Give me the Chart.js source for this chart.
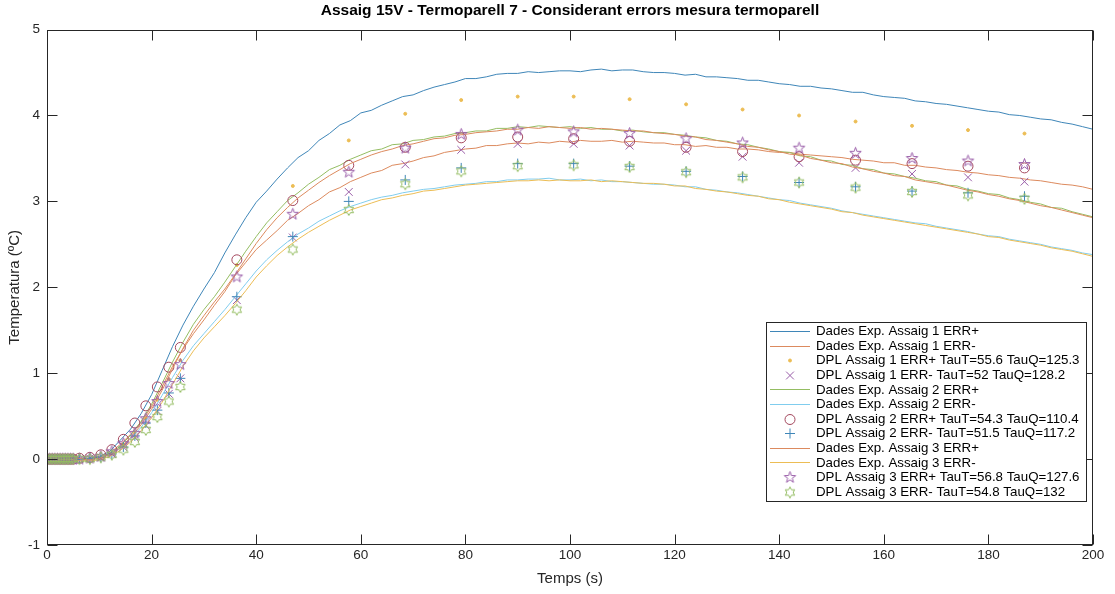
<!DOCTYPE html>
<html>
<head>
<meta charset="utf-8">
<script src="https://cdn.jsdelivr.net/npm/chart.js@4.4.1/dist/chart.umd.min.js"></script>
<style>
html,body{margin:0;padding:0;background:#fff;}
#wrap{width:1115px;height:594px;position:relative;}
</style>
</head>
<body>
<div id="wrap"><canvas id="c" width="1115" height="594"></canvas></div>
<script>
// ---------- DATA ----------
const chartTitle = 'Assaig 15V - Termoparell 7 - Considerant errors mesura termoparell';
const xTitle = 'Temps (s)';
const yTitle = 'Temperatura (ºC)';

const seriesLabels = [
  'Dades Exp. Assaig 1 ERR+',
  'Dades Exp. Assaig 1 ERR-',
  'DPL Assaig 1 ERR+ TauT=55.6 TauQ=125.3',
  'DPL Assaig 1 ERR- TauT=52 TauQ=128.2',
  'Dades Exp. Assaig 2 ERR+',
  'Dades Exp. Assaig 2 ERR-',
  'DPL Assaig 2 ERR+ TauT=54.3 TauQ=110.4',
  'DPL Assaig 2 ERR- TauT=51.5 TauQ=117.2',
  'Dades Exp. Assaig 3 ERR+',
  'Dades Exp. Assaig 3 ERR-',
  'DPL Assaig 3 ERR+ TauT=56.8 TauQ=127.6',
  'DPL Assaig 3 ERR- TauT=54.8 TauQ=132'
];

// experimental time base (s)
const timeExp = [
  0,2,4,6,8,10,12,14,16,18,
  20,22,24,26,28,30,32,34,36,38,
  40,42,44,46,48,50,52,54,56,58,
  60,62,64,66,68,70,72,74,76,78,
  80,82,84,86,88,90,92,94,96,98,
  100,102,104,106,108,110,112,114,116,118,
  120,122,124,126,128,130,132,134,136,138,
  140,142,144,146,148,150,152,154,156,158,
  160,162,164,166,168,170,172,174,176,178,
  180,182,184,186,188,190,192,194,196,198,
  200
];

const expA1Plus = [
  0.00,0.01,-0.01,0.00,0.01,0.03,0.09,0.22,0.35,0.53,
  0.75,1.03,1.31,1.56,1.78,1.98,2.17,2.40,2.61,2.81,
  2.99,3.12,3.26,3.39,3.51,3.59,3.71,3.79,3.89,3.94,
  4.03,4.06,4.12,4.17,4.22,4.24,4.29,4.33,4.36,4.39,
  4.43,4.43,4.45,4.48,4.49,4.49,4.51,4.50,4.51,4.52,
  4.52,4.51,4.53,4.54,4.52,4.53,4.53,4.51,4.50,4.50,
  4.49,4.47,4.48,4.45,4.45,4.44,4.43,4.41,4.41,4.39,
  4.37,4.36,4.34,4.34,4.32,4.31,4.29,4.27,4.27,4.24,
  4.22,4.21,4.20,4.17,4.16,4.14,4.13,4.11,4.09,4.07,
  4.05,4.04,4.01,4.00,3.98,3.96,3.95,3.92,3.90,3.87,
  3.84
];
const expA1Minus = [
  0.00,-0.01,0.00,0.01,-0.01,0.02,0.07,0.17,0.29,0.43,
  0.61,0.84,1.08,1.28,1.46,1.62,1.79,1.95,2.14,2.29,
  2.44,2.55,2.66,2.78,2.86,2.95,3.02,3.11,3.16,3.23,
  3.28,3.33,3.36,3.42,3.44,3.47,3.51,3.53,3.57,3.59,
  3.61,3.62,3.65,3.65,3.67,3.68,3.67,3.69,3.68,3.70,
  3.69,3.71,3.70,3.70,3.71,3.69,3.70,3.69,3.68,3.68,
  3.66,3.66,3.64,3.65,3.63,3.63,3.61,3.61,3.60,3.58,
  3.57,3.57,3.55,3.54,3.53,3.52,3.51,3.49,3.48,3.47,
  3.45,3.45,3.42,3.42,3.40,3.39,3.37,3.36,3.34,3.33,
  3.31,3.30,3.28,3.27,3.25,3.24,3.22,3.20,3.19,3.17,
  3.14
];
const expA2Plus = [
  0.00,0.00,0.01,-0.01,0.00,0.02,0.06,0.15,0.28,0.44,
  0.64,0.88,1.13,1.36,1.57,1.74,1.89,2.06,2.24,2.42,
  2.59,2.75,2.88,3.01,3.10,3.20,3.28,3.37,3.42,3.49,
  3.54,3.59,3.61,3.66,3.67,3.71,3.72,3.75,3.76,3.79,
  3.80,3.82,3.82,3.85,3.85,3.87,3.86,3.88,3.87,3.86,
  3.87,3.85,3.86,3.84,3.84,3.82,3.83,3.81,3.80,3.80,
  3.78,3.77,3.75,3.74,3.71,3.70,3.67,3.66,3.63,3.61,
  3.58,3.57,3.53,3.52,3.48,3.47,3.43,3.42,3.38,3.37,
  3.33,3.32,3.29,3.27,3.24,3.23,3.19,3.18,3.14,3.12,
  3.09,3.08,3.04,3.02,2.99,2.97,2.93,2.92,2.88,2.85,
  2.82
];
const expA2Minus = [
  0.00,0.01,-0.01,0.00,-0.02,0.01,0.05,0.13,0.24,0.37,
  0.54,0.74,0.95,1.15,1.32,1.46,1.60,1.74,1.89,2.04,
  2.19,2.32,2.43,2.53,2.62,2.69,2.77,2.83,2.89,2.94,
  2.98,3.02,3.05,3.07,3.10,3.12,3.14,3.15,3.17,3.19,
  3.20,3.21,3.23,3.23,3.25,3.25,3.26,3.26,3.27,3.25,
  3.25,3.26,3.24,3.25,3.23,3.23,3.22,3.21,3.20,3.20,
  3.19,3.17,3.17,3.14,3.13,3.11,3.10,3.08,3.06,3.04,
  3.02,3.01,2.98,2.96,2.94,2.92,2.89,2.87,2.85,2.83,
  2.81,2.79,2.77,2.75,2.74,2.71,2.69,2.67,2.65,2.62,
  2.60,2.59,2.56,2.54,2.52,2.50,2.47,2.45,2.43,2.40,
  2.38
];
const expA3Plus = [
  0.00,0.00,-0.01,0.01,-0.01,0.01,0.05,0.13,0.25,0.40,
  0.58,0.80,1.05,1.29,1.50,1.67,1.83,1.98,2.15,2.33,
  2.51,2.67,2.81,2.93,3.04,3.13,3.22,3.30,3.37,3.44,
  3.49,3.54,3.58,3.61,3.65,3.67,3.70,3.73,3.74,3.77,
  3.78,3.80,3.81,3.82,3.84,3.84,3.86,3.85,3.87,3.86,
  3.85,3.86,3.84,3.85,3.84,3.83,3.82,3.82,3.80,3.79,
  3.78,3.76,3.75,3.72,3.71,3.69,3.67,3.64,3.63,3.60,
  3.58,3.55,3.54,3.50,3.48,3.45,3.44,3.40,3.38,3.35,
  3.33,3.30,3.29,3.25,3.23,3.21,3.19,3.16,3.13,3.11,
  3.08,3.06,3.03,3.01,2.98,2.95,2.93,2.90,2.87,2.84,
  2.81
];
const expA3Minus = [
  0.00,-0.01,0.00,-0.02,-0.02,-0.01,0.03,0.10,0.20,0.33,
  0.48,0.66,0.87,1.08,1.26,1.41,1.54,1.67,1.81,1.96,
  2.12,2.25,2.37,2.47,2.56,2.64,2.71,2.78,2.84,2.90,
  2.94,2.98,3.02,3.04,3.07,3.09,3.12,3.13,3.15,3.17,
  3.19,3.20,3.21,3.22,3.23,3.24,3.24,3.25,3.24,3.25,
  3.24,3.24,3.25,3.23,3.24,3.23,3.22,3.21,3.21,3.20,
  3.18,3.18,3.15,3.14,3.12,3.11,3.09,3.07,3.06,3.03,
  3.02,2.99,2.97,2.95,2.93,2.91,2.88,2.87,2.84,2.82,
  2.80,2.78,2.76,2.74,2.72,2.70,2.68,2.66,2.64,2.62,
  2.59,2.58,2.55,2.53,2.51,2.49,2.46,2.44,2.42,2.39,
  2.36
];

// DPL model output times (s)
const timeDpl = [
  0,0.5,1,1.5,2,2.5,3,3.5,4,4.5,5,
  6.2,8.2,10.3,12.4,14.6,16.8,18.9,21.1,23.3,25.5,
  36.3,47,57.7,68.5,79.2,90,100.7,111.4,122.2,133,143.8,154.6,165.4,176.1,186.9
];
const dplA1Plus = [
  0,0,0,0,0,0,0,0,0,0,0,
  0.00,0.01,0.02,0.07,0.17,0.31,0.48,0.69,0.93,1.15,
  2.26,3.18,3.71,4.02,4.18,4.22,4.22,4.19,4.13,4.07,4.00,3.93,3.88,3.83,3.79
];
const dplA1Minus = [
  0,0,0,0,0,0,0,0,0,0,0,
  0.00,0.01,0.02,0.06,0.14,0.25,0.39,0.56,0.76,0.94,
  1.85,2.58,3.11,3.43,3.60,3.67,3.67,3.65,3.59,3.52,3.45,3.39,3.32,3.28,3.23
];
const dplA2Plus = [
  0,0,0,0,0,0,0,0,0,0,0,
  0.01,0.02,0.05,0.11,0.23,0.42,0.62,0.84,1.07,1.30,
  2.32,3.01,3.42,3.63,3.74,3.75,3.73,3.70,3.63,3.58,3.52,3.48,3.44,3.41,3.39
];
const dplA2Minus = [
  0,0,0,0,0,0,0,0,0,0,0,
  0.00,0.01,0.02,0.06,0.14,0.27,0.42,0.57,0.77,0.94,
  1.89,2.59,3.00,3.25,3.39,3.44,3.44,3.41,3.35,3.29,3.22,3.17,3.12,3.10,3.06
];
const dplA3Plus = [
  0,0,0,0,0,0,0,0,0,0,0,
  0.00,0.01,0.03,0.085,0.18,0.30,0.47,0.67,0.88,1.10,
  2.12,2.85,3.34,3.62,3.78,3.83,3.81,3.79,3.73,3.68,3.62,3.56,3.50,3.47,3.43
];
const dplA3Minus = [
  0,0,0,0,0,0,0,0,0,0,0,
  0.00,0.00,0.02,0.05,0.11,0.20,0.34,0.49,0.67,0.84,
  1.74,2.44,2.90,3.20,3.35,3.41,3.42,3.40,3.34,3.28,3.22,3.16,3.11,3.07,3.03
];

// ---------- STYLE ----------
const FONT = '"Liberation Sans", Arial, Helvetica, sans-serif';
Chart.defaults.font.family = FONT;
const C = {
  blue: '#3f86b8', orange: '#dc8a5e', yellow: '#ecbd55', purple: '#9a5ea9',
  green: '#94bd62', lblue: '#80cdee', dred: '#a4485e', blue2: '#3f86b8'
};

function starImage(n, outer, inner, color) {
  const s = Math.ceil(outer * 2 + 3);
  const cv = document.createElement('canvas');
  cv.width = s; cv.height = s;
  const g = cv.getContext('2d');
  g.strokeStyle = color; g.lineWidth = 1;
  g.beginPath();
  for (let i = 0; i < n * 2; i++) {
    const r = i % 2 === 0 ? outer : inner;
    const a = -Math.PI / 2 + i * Math.PI / n;
    const px = s / 2 + r * Math.cos(a), py = s / 2 + r * Math.sin(a);
    if (i === 0) g.moveTo(px, py); else g.lineTo(px, py);
  }
  g.closePath(); g.stroke();
  return cv;
}
const pentagram = starImage(5, 6, 2.4, C.purple);
const hexagram = starImage(6, 5.5, 3.1, C.green);

const xy = (xs, ys) => xs.map((x, i) => ({x: x, y: ys[i]}));

function lineDs(label, ys, color) {
  return {label, data: xy(timeExp, ys), showLine: true, borderColor: color, borderWidth: 1,
          pointRadius: 0, fill: false, tension: 0};
}
function markDs(label, ys, style, radius, color, fillColor) {
  return {label, data: xy(timeDpl, ys), showLine: false, pointStyle: style, pointRadius: radius,
          pointBorderColor: color, pointBackgroundColor: fillColor || 'rgba(0,0,0,0)', pointBorderWidth: 1};
}

const datasets = [
  lineDs(seriesLabels[0], expA1Plus, C.blue),
  lineDs(seriesLabels[1], expA1Minus, C.orange),
  markDs(seriesLabels[2], dplA1Plus, 'circle', 1.5, C.yellow, C.yellow),
  markDs(seriesLabels[3], dplA1Minus, 'crossRot', 5.5, C.purple),
  lineDs(seriesLabels[4], expA2Plus, C.green),
  lineDs(seriesLabels[5], expA2Minus, C.lblue),
  markDs(seriesLabels[6], dplA2Plus, 'circle', 5, C.dred),
  markDs(seriesLabels[7], dplA2Minus, 'cross', 5, C.blue2),
  lineDs(seriesLabels[8], expA3Plus, C.orange),
  lineDs(seriesLabels[9], expA3Minus, C.yellow),
  markDs(seriesLabels[10], dplA3Plus, pentagram, 6, C.purple),
  markDs(seriesLabels[11], dplA3Minus, hexagram, 6, C.green)
];
datasets.forEach((d, i) => { d.order = datasets.length - i; });

// ---------- PLUGINS ----------
const AXIS_COLOR = '#262626';
const framePlugin = {
  id: 'matlabFrame',
  afterDatasetsDraw(chart) {
    const {ctx, chartArea: a, scales} = chart;
    const L = Math.round(a.left) + 0.5, R = Math.round(a.right) - 0.5;
    const T = Math.round(a.top) + 0.5, B = Math.round(a.bottom) - 0.5;
    ctx.save();
    ctx.strokeStyle = AXIS_COLOR; ctx.lineWidth = 1;
    ctx.strokeRect(L, T, R - L, B - T);
    ctx.beginPath();
    const tl = 10;
    scales.x.ticks.forEach(t => {
      const px = Math.round(scales.x.getPixelForValue(t.value)) + 0.5;
      ctx.moveTo(px, B); ctx.lineTo(px, B - tl);
      ctx.moveTo(px, T); ctx.lineTo(px, T + tl);
    });
    scales.y.ticks.forEach(t => {
      const py = Math.round(scales.y.getPixelForValue(t.value)) + 0.5;
      ctx.moveTo(L, py); ctx.lineTo(L + tl, py);
      ctx.moveTo(R, py); ctx.lineTo(R - tl, py);
    });
    ctx.stroke();
    ctx.restore();
  }
};

function drawMarker(ctx, d, x, y) {
  const st = d.pointStyle, r = d.pointRadius;
  ctx.strokeStyle = d.pointBorderColor;
  ctx.fillStyle = d.pointBackgroundColor;
  ctx.lineWidth = 1;
  if (typeof st === 'object') { ctx.drawImage(st, x - st.width / 2, y - st.height / 2); return; }
  ctx.beginPath();
  if (st === 'circle') { ctx.arc(x, y, r, 0, Math.PI * 2); ctx.fill(); ctx.stroke(); return; }
  if (st === 'cross') { ctx.moveTo(x - r, y); ctx.lineTo(x + r, y); ctx.moveTo(x, y - r); ctx.lineTo(x, y + r); }
  if (st === 'crossRot') { const k = r * Math.SQRT1_2; ctx.moveTo(x - k, y - k); ctx.lineTo(x + k, y + k); ctx.moveTo(x + k, y - k); ctx.lineTo(x - k, y + k); }
  ctx.stroke();
}

const legendPlugin = {
  id: 'matlabLegend',
  afterDraw(chart) {
    const ctx = chart.ctx;
    const ds = chart.data.datasets;
    ctx.save();
    ctx.font = '13.3px ' + FONT;
    let maxW = 0;
    ds.forEach(d => { maxW = Math.max(maxW, ctx.measureText(d.label).width); });
    const left = 766, top = 322, rowH = 14.6, first = 331;
    const textX = left + 50;
    const right = Math.round(textX + maxW + 6);
    const bottom = Math.round(first + (ds.length - 1) * rowH + 9);
    ctx.fillStyle = '#fff';
    ctx.fillRect(left, top, right - left, bottom - top);
    ctx.strokeStyle = AXIS_COLOR; ctx.lineWidth = 1;
    ctx.strokeRect(left + 0.5, top + 0.5, right - left, bottom - top);
    ds.forEach((d, i) => {
      const y = first + i * rowH;
      if (d.showLine) {
        ctx.strokeStyle = d.borderColor; ctx.lineWidth = 1;
        ctx.beginPath();
        ctx.moveTo(left + 4, Math.round(y) + 0.5); ctx.lineTo(left + 44, Math.round(y) + 0.5);
        ctx.stroke();
      } else {
        drawMarker(ctx, d, left + 24, Math.round(y) + 0.5);
      }
      ctx.fillStyle = '#000';
      ctx.textBaseline = 'middle'; ctx.textAlign = 'left';
      ctx.fillText(d.label, textX, y + 0.5);
    });
    ctx.restore();
  }
};

// ---------- CHART ----------
new Chart(document.getElementById('c'), {
  type: 'scatter',
  data: {datasets},
  options: {
    responsive: false,
    animation: false,
    events: [],
    layout: {padding: {left: 0, right: 22, top: 0, bottom: 0}},
    plugins: {
      legend: {display: false},
      tooltip: {enabled: false},
      title: {
        display: true, text: chartTitle, fullSize: false, color: '#000',
        font: {size: 15.5, weight: 'bold', family: FONT},
        padding: {top: 1, bottom: 10}
      }
    },
    scales: {
      x: {
        type: 'linear', min: 0, max: 200,
        grid: {display: false, drawTicks: false},
        border: {display: false},
        ticks: {stepSize: 20, color: AXIS_COLOR, font: {size: 13.5}, padding: 2, maxRotation: 0},
        title: {display: true, text: xTitle, color: AXIS_COLOR, font: {size: 15}, padding: {top: 0, bottom: 6}},
        afterFit: s => { s.height = 49; }
      },
      y: {
        type: 'linear', min: -1, max: 5,
        grid: {display: false, drawTicks: false},
        border: {display: false},
        ticks: {stepSize: 1, color: AXIS_COLOR, font: {size: 13.5}, padding: 7},
        title: {display: true, text: yTitle, color: AXIS_COLOR, font: {size: 15}, padding: {top: 6, bottom: 0}},
        afterFit: s => { s.width = 47; }
      }
    }
  },
  plugins: [framePlugin, legendPlugin]
});
</script>
</body>
</html>
